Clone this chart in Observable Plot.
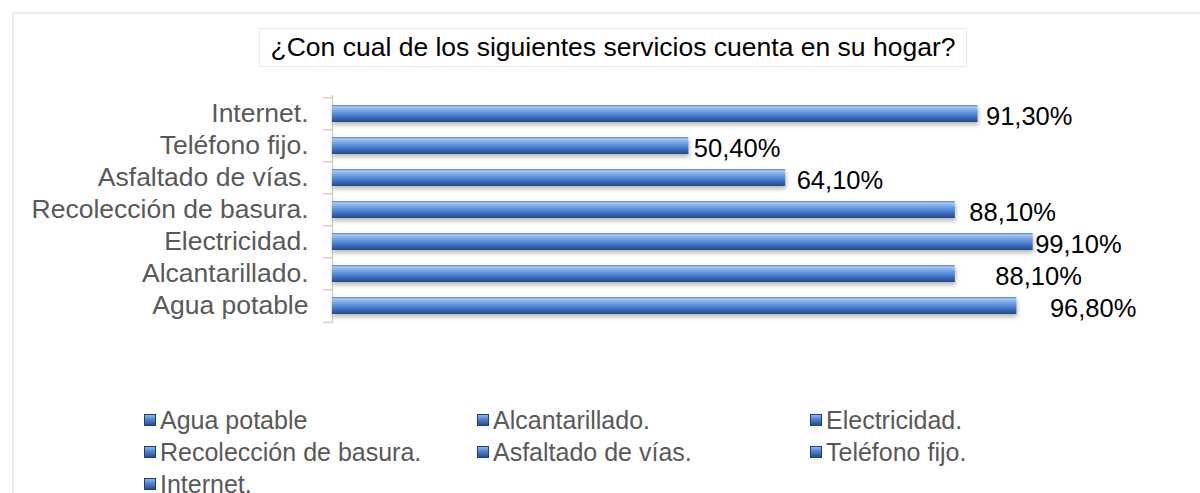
<!DOCTYPE html>
<html>
<head>
<meta charset="utf-8">
<script src="https://cdn.jsdelivr.net/npm/d3@7"></script>
<script src="https://cdn.jsdelivr.net/npm/@observablehq/plot@0.6"></script>
<style>
  html, body { margin: 0; padding: 0; background: #ffffff; overflow: hidden; }
  body { width: 1200px; height: 493px; position: relative; font-family: "Liberation Sans", Arial, sans-serif; }
  #frame { position: absolute; left: 12px; top: 12px; width: 1400px; height: 700px;
           border-left: 2px solid #EEECE1; border-top: 2px solid #EEECE1; box-sizing: border-box; }
  #titlewrap { position: relative; height: 70px; }
  #title { position: absolute; left: 259px; top: 28px; width: 708px; height: 39px; box-sizing: border-box;
           border: 1.5px solid #EEECE1; text-align: center; font-size: 26.5px; line-height: 36px; color: #000; white-space: nowrap; }
  #chart { position: relative; height: 270px; }
  #chart svg g[aria-label="bar"] rect { filter: drop-shadow(1px 3px 2px rgba(0,0,0,0.28)); }
  #legend { position: relative; margin-top: 64px; margin-left: 144px; display: grid;
            grid-template-columns: 333px 333px 333px; grid-auto-rows: 32px; }
  .item { display: flex; align-items: center; font-size: 25px; color: #595959; white-space: nowrap; }
  .sw { width: 12px; height: 12px; margin-right: 4px; box-sizing: border-box; flex: none;
        border: 1px solid #1d3f74;
        background: linear-gradient(to bottom, #8fb6ea 0%, #4f83cf 45%, #23508f 100%); }
</style>
</head>
<body>
<div id="frame"></div>
<div id="titlewrap"><div id="title">¿Con cual de los siguientes servicios cuenta en su hogar?</div></div>
<div id="chart"></div>
<div id="legend"></div>
<script>
// ---- data (in series order) ----
const categories = ["Agua potable", "Alcantarillado.", "Electricidad.", "Recolección de basura.", "Asfaltado de vías.", "Teléfono fijo.", "Internet."];
const values = [96.8, 88.1, 99.1, 88.1, 64.1, 50.4, 91.3];
// manual label nudges (px) used in the original chart
const labelNudge = [33, 40, 2, 14, 11, 5, 8];

const rows = categories.map((c, i) => ({category: c, value: values[i]}));
const fmt = v => v.toFixed(2).replace(".", ",") + "%";

const H = 270, MT = 25, MB = 17;
const step = (H - MT - MB) / categories.length;

const defs = () => {
  const ns = "http://www.w3.org/2000/svg";
  const d = document.createElementNS(ns, "defs");
  const g = document.createElementNS(ns, "linearGradient");
  g.setAttribute("id", "barGrad");
  g.setAttribute("x1", "0"); g.setAttribute("y1", "0");
  g.setAttribute("x2", "0"); g.setAttribute("y2", "1");
  [["0", "#5585cc"], ["0.12", "#a9caf2"], ["0.32", "#79a8e6"], ["0.62", "#477ccb"], ["0.85", "#2f5fa6"], ["1", "#24497f"]]
    .forEach(([o, c]) => {
      const s = document.createElementNS(ns, "stop");
      s.setAttribute("offset", o); s.setAttribute("stop-color", c);
      g.appendChild(s);
    });
  d.appendChild(g);
  return d;
};

const chart = Plot.plot({
  width: 1200,
  height: H,
  marginTop: MT,
  marginBottom: MB,
  marginLeft: 332,
  marginRight: 161,
  style: {fontFamily: "'Liberation Sans', Arial, sans-serif", background: "transparent", overflow: "visible"},
  x: {domain: [0, 100], axis: null},
  y: {domain: [...categories].reverse(), paddingInner: 0.478, paddingOuter: 0.239, axis: null, label: null},
  marks: [
    defs,
    Plot.ruleX([0], {stroke: "#d0d0d0", strokeWidth: 1.5}),
    Plot.axisY({label: null, tickSize: 9, tickFormat: () => "", dy: -step / 2, stroke: "#d0d0d0", strokeWidth: 1.5}),
    Plot.axisY({label: null, ticks: [categories[0]], tickSize: 9, tickFormat: () => "", dy: step / 2, stroke: "#d0d0d0", strokeWidth: 1.5}),
    Plot.axisY({label: null, tickSize: 0, tickPadding: 24, fontSize: 26.5, fill: "#595959"}),
    Plot.barX(rows, {x: "value", y: "category", fill: "url(#barGrad)"}),
    ...rows.map((r, i) => Plot.text([r], {
      x: "value", y: "category", text: d => fmt(d.value),
      textAnchor: "start", dx: labelNudge[i], dy: 3, fontSize: 25.5, fill: "#000"
    }))
  ]
});
document.getElementById("chart").appendChild(chart);

const legend = document.getElementById("legend");
categories.forEach(c => {
  const it = document.createElement("div");
  it.className = "item";
  const sw = document.createElement("span");
  sw.className = "sw";
  const tx = document.createElement("span");
  tx.textContent = c;
  it.appendChild(sw); it.appendChild(tx);
  legend.appendChild(it);
});
</script>
</body>
</html>
